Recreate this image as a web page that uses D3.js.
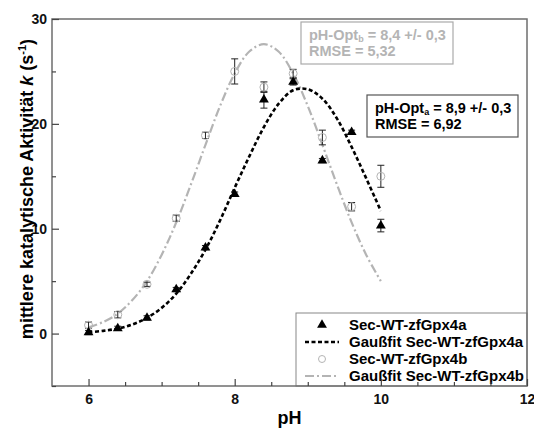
<!DOCTYPE html>
<html>
<head>
<meta charset="utf-8">
<script src="https://cdn.jsdelivr.net/npm/d3@7"></script>
<style>
  body { margin: 0; background: #fff; }
  text { font-family: Arial, "Liberation Sans", sans-serif; font-weight: bold; }
</style>
</head>
<body>
<div id="graph"></div>
<script>
// measured points, Sec-WT-zfGpx4a (triangles)
const phA = [6.0, 6.4, 6.8, 7.2, 7.6, 8.0, 8.4, 8.8, 9.2, 9.6, 10.0];
const kA = [0.1, 0.5, 1.5, 4.2, 8.2, 13.3, 22.3, 24.0, 16.5, 19.2, 10.3];
const errA = [0.2, 0.2, 0.2, 0.2, 0.2, 0.2, 0.8, 0.3, 0.2, 0.2, 0.6];

// measured points, Sec-WT-zfGpx4b (circles)
const phB = [6.0, 6.4, 6.8, 7.2, 7.6, 8.0, 8.4, 8.8, 9.2, 9.6, 10.0];
const kB = [0.8, 1.8, 4.7, 11.0, 18.9, 25.0, 23.5, 24.8, 18.7, 12.1, 15.0];
const errB = [0.3, 0.3, 0.2, 0.3, 0.3, 1.2, 0.5, 0.4, 0.7, 0.4, 1.05];

// fit curves
const fitPh = [6.0, 6.2, 6.4, 6.6, 6.8, 7.0, 7.2, 7.4, 7.6, 7.8, 8.0, 8.2, 8.4, 8.6, 8.8, 9.0, 9.2, 9.4, 9.6, 9.8, 10.0];
const fitA = [0.13, 0.26, 0.48, 0.87, 1.5, 2.45, 3.8, 5.7, 8.0, 10.8, 13.9, 16.9, 19.7, 21.9, 23.2, 23.3, 22.4, 20.5, 17.8, 14.8, 11.7];
const fitB = [0.6, 1.1, 1.9, 3.2, 5.0, 7.5, 10.6, 14.2, 18.0, 21.7, 24.8, 26.9, 27.6, 26.9, 24.8, 21.7, 18.0, 14.2, 10.6, 7.5, 5.0];

const xTicks = [6, 8, 10, 12];
const xMinor = [6.5, 7, 7.5, 8.5, 9, 9.5, 10.5, 11, 11.5];
const yTicks = [0, 10, 20, 30];
const yMinor = [-5, 5, 15, 25];

const legendLabels = ["Sec-WT-zfGpx4a", "Gaußfit Sec-WT-zfGpx4a", "Sec-WT-zfGpx4b", "Gaußfit Sec-WT-zfGpx4b"];

const width = 534, height = 429;
const margin = {left: 52, right: 7, top: 19, bottom: 43};
const grayB = "#b4b4b4";

let svg = d3.select("#graph")
    .append("svg")
    .attr("width", width)
    .attr("height", height);

let x = d3.scaleLinear()
    .domain([5.5, 12])
    .range([margin.left, width - margin.right]);

let y = d3.scaleLinear()
    .domain([-5, 30])
    .range([height - margin.bottom, margin.top]);

// fits
let line = d3.line().curve(d3.curveCatmullRom);
svg.append("path")
    .attr("d", line(fitPh.map((p, i) => [x(p), y(fitB[i])])))
    .attr("fill", "none")
    .attr("stroke", grayB)
    .attr("stroke-width", 2.2)
    .attr("stroke-dasharray", "9,3,2,3");

svg.append("path")
    .attr("d", line(fitPh.map((p, i) => [x(p), y(fitA[i])])))
    .attr("fill", "none")
    .attr("stroke", "#000")
    .attr("stroke-width", 2.6)
    .attr("stroke-dasharray", "4,2.5");

// error bars
function errorBars(ph, k, err) {
    let g = svg.append("g").attr("stroke", "#222").attr("stroke-width", 1);
    ph.forEach(function(p, i) {
        let cx = x(p), y1 = y(k[i] + err[i]), y2 = y(k[i] - err[i]);
        g.append("line").attr("x1", cx).attr("x2", cx).attr("y1", y1).attr("y2", y2);
        g.append("line").attr("x1", cx - 3.5).attr("x2", cx + 3.5).attr("y1", y1).attr("y2", y1);
        g.append("line").attr("x1", cx - 3.5).attr("x2", cx + 3.5).attr("y1", y2).attr("y2", y2);
    });
}
errorBars(phB, kB, errB);
errorBars(phA, kA, errA);

svg.append("g").selectAll("circle")
    .data(phB)
    .enter()
    .append("circle")
    .attr("cx", function(d) { return x(d); })
    .attr("cy", function(d, i) { return y(kB[i]); })
    .attr("r", 4)
    .attr("fill", "none")
    .attr("stroke", grayB)
    .attr("stroke-width", 1);

let tri = d3.symbol().type(d3.symbolTriangle).size(42);
svg.append("g").selectAll("path")
    .data(phA)
    .enter()
    .append("path")
    .attr("d", tri)
    .attr("transform", function(d, i) { return `translate(${x(d)}, ${y(kA[i])})`; })
    .attr("fill", "#000");

// legend
let lg = svg.append("g");
lg.append("rect")
    .attr("x", 296).attr("y", 313)
    .attr("width", x(12) - 296).attr("height", y(-5) - 313)
    .attr("fill", "#fff")
    .attr("stroke", "#888")
    .attr("stroke-width", 1);
let rowY = [325, 342, 359, 376];
lg.append("path").attr("d", tri).attr("transform", `translate(322, ${rowY[0]})`).attr("fill", "#000");
lg.append("line").attr("x1", 305).attr("x2", 339).attr("y1", rowY[1]).attr("y2", rowY[1])
    .attr("stroke", "#000").attr("stroke-width", 2.4).attr("stroke-dasharray", "4,2.5");
lg.append("circle").attr("cx", 322).attr("cy", rowY[2]).attr("r", 3.5)
    .attr("fill", "none").attr("stroke", grayB);
lg.append("line").attr("x1", 305).attr("x2", 339).attr("y1", rowY[3]).attr("y2", rowY[3])
    .attr("stroke", grayB).attr("stroke-width", 2).attr("stroke-dasharray", "9,3,2,3");
lg.selectAll("text.lbl")
    .data(legendLabels)
    .enter()
    .append("text")
    .attr("class", "lbl")
    .attr("x", 349)
    .attr("y", function(d, i) { return rowY[i] + 5; })
    .style("font-size", "15px")
    .text(function(d) { return d; });

// frame and ticks
svg.append("rect")
    .attr("x", x(5.5)).attr("y", y(30))
    .attr("width", x(12) - x(5.5)).attr("height", y(-5) - y(30))
    .attr("fill", "none")
    .attr("stroke", "#6e6e6e")
    .attr("stroke-width", 1.5);

let xAxis = svg.append("g").attr("transform", `translate(0, ${y(-5)})`);
xAxis.call(d3.axisBottom(x).tickValues(xTicks).tickFormat(d3.format("d"))
    .tickSizeInner(-7).tickSizeOuter(0).tickPadding(8));
xAxis.append("g").call(d3.axisBottom(x).tickValues(xMinor).tickSizeInner(-4).tickSizeOuter(0).tickFormat(""));
xAxis.selectAll(".domain").remove();

let yAxis = svg.append("g").attr("transform", `translate(${x(5.5)}, 0)`);
yAxis.call(d3.axisLeft(y).tickValues(yTicks).tickFormat(d3.format("d"))
    .tickSizeInner(-7).tickSizeOuter(0).tickPadding(5));
yAxis.append("g").call(d3.axisLeft(y).tickValues(yMinor).tickSizeInner(-4).tickSizeOuter(0).tickFormat(""));
yAxis.selectAll(".domain").remove();

svg.selectAll(".tick line").attr("stroke", "#444").attr("stroke-width", 1.2);
svg.selectAll(".tick text")
    .style("font-size", "14px")
    .style("font-family", "Arial, 'Liberation Sans', sans-serif")
    .style("font-weight", "bold")
    .attr("fill", "#111");

// axis titles
svg.append("text")
    .attr("x", (x(5.5) + x(12)) / 2)
    .attr("y", 424)
    .style("text-anchor", "middle")
    .style("font-size", "18px")
    .text("pH");

let yt = svg.append("text")
    .attr("transform", `translate(33, 189) rotate(-90)`)
    .style("text-anchor", "middle")
    .style("font-size", "18px");
yt.append("tspan").text("mittlere katalytische Aktivität ");
yt.append("tspan").style("font-style", "italic").text("k");
yt.append("tspan").text(" (s");
yt.append("tspan").attr("dy", -7).style("font-size", "11px").text("-1");
yt.append("tspan").attr("dy", 7).text(")");

// annotation boxes
function annot(bx, by, bw, bh, color, sub, val, rmse) {
    let g = svg.append("g");
    g.append("rect").attr("x", bx).attr("y", by).attr("width", bw).attr("height", bh)
        .attr("fill", "#fff").attr("stroke", color === "#000" ? "#555" : "#aaa").attr("stroke-width", 1.2);
    let t1 = g.append("text").attr("x", bx + 8).attr("y", by + 18).attr("fill", color).style("font-size", "14.5px");
    t1.append("tspan").text("pH-Opt");
    t1.append("tspan").attr("dy", 2).style("font-size", "9px").text(sub);
    t1.append("tspan").attr("dy", -2).text(" = " + val);
    g.append("text").attr("x", bx + 8).attr("y", by + 34).attr("fill", color).style("font-size", "14.5px")
        .text("RMSE = " + rmse);
}
annot(301, 22, 152, 42, grayB, "b", "8,4 +/- 0,3", "5,32");
annot(367, 95, 151, 42, "#000", "a", "8,9 +/- 0,3", "6,92");
</script>
</body>
</html>
